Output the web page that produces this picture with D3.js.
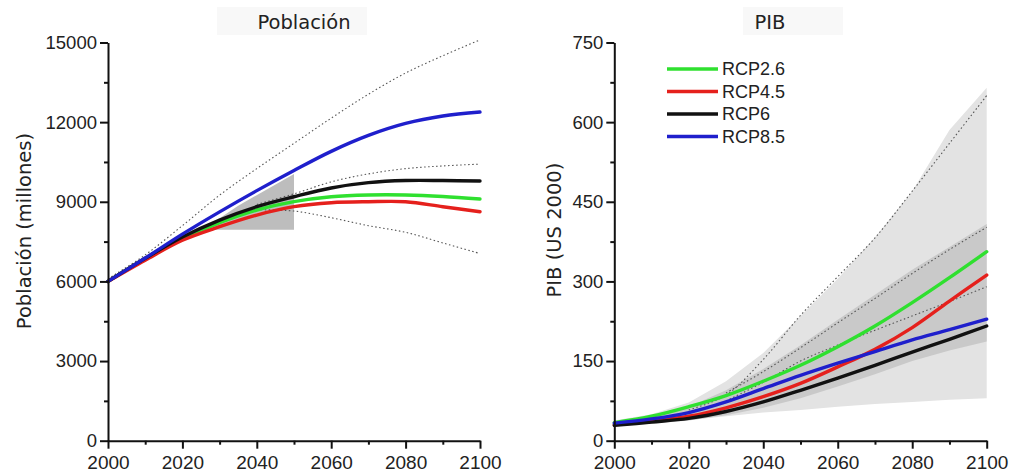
<!DOCTYPE html>
<html>
<head>
<meta charset="utf-8">
<script src="https://cdn.jsdelivr.net/npm/d3@7"></script>
<style>
  body { margin: 0; background: #fff; }
  svg { display: block; }
</style>
</head>
<body>
<script>
// ---- data ----
var years = [2000, 2010, 2020, 2030, 2040, 2050, 2060, 2070, 2080, 2090, 2100];
var scenarios = ['RCP2.6', 'RCP4.5', 'RCP6', 'RCP8.5'];
var scenarioColors = ['#2fe02f', '#e5201c', '#111111', '#1f1fcc'];

// population, millions
var popRCP26 = [6000, 6850, 7600, 8210, 8690, 9005, 9190, 9255, 9255, 9200, 9105];
var popRCP45 = [6000, 6800, 7550, 8060, 8500, 8815, 8965, 9003, 9003, 8815, 8626];
var popRCP6  = [6000, 6870, 7670, 8310, 8815, 9190, 9520, 9720, 9800, 9800, 9783];
var popRCP85 = [6000, 6880, 7780, 8620, 9420, 10180, 10900, 11500, 11950, 12230, 12380];
var popDotHigh = [6100, 7000, 8100, 9250, 10250, 11200, 12150, 13050, 13850, 14500, 15100];
var popDotMidYears = [2040, 2050, 2060, 2070, 2080, 2090, 2100];
var popDotMid = [8900, 9300, 9750, 10050, 10250, 10350, 10420];
var popDotLow = [8700, 8650, 8400, 8100, 7850, 7450, 7050];
var popBandYears = [2026, 2035, 2050];
var popBandHigh = [8000, 8850, 10050];
var popBandLow = [7950, 7950, 7950];

// GDP, US 2000
var gdpRCP26 = [34, 46, 64, 85, 112, 142, 177, 216, 260, 307, 356];
var gdpRCP45 = [30, 37, 46, 62, 83, 108, 139, 172, 213, 263, 312];
var gdpRCP6  = [29, 35, 42, 55, 73, 95, 118, 142, 167, 191, 216];
var gdpRCP85 = [33, 41, 53, 73, 98, 123, 146, 168, 190, 209, 229];
var gdpLightHigh = [38, 50, 72, 112, 165, 235, 305, 383, 470, 585, 665];
var gdpLightLow  = [30, 34, 39, 46, 53, 58, 64, 69, 73, 77, 80];
var gdpDarkHigh  = [35, 46, 64, 95, 135, 180, 228, 275, 322, 365, 408];
var gdpDarkLow   = [28, 32, 38, 48, 62, 80, 102, 125, 150, 170, 187];
var gdpDotHighYears = [2020, 2030, 2040, 2050, 2060, 2070, 2080, 2090, 2100];
var gdpDotHigh = [58, 86, 153, 236, 309, 382, 470, 560, 650];
var gdpDotMidYears = [2030, 2040, 2050, 2060, 2070, 2080, 2090, 2100];
var gdpDotMid1 = [90, 130, 175, 222, 268, 315, 360, 402];
var gdpDotMid2 = [75, 110, 150, 180, 208, 235, 262, 290];

var popTicks = [0, 3000, 6000, 9000, 12000, 15000];
var gdpTicks = [0, 150, 300, 450, 600, 750];
var yearTicks = [2000, 2020, 2040, 2060, 2080, 2100];

var W = 1010, H = 474;
var svg = d3.select('body').append('svg').attr('width', W).attr('height', H);

var plotTop = 42.5, plotBottom = 440.7;

function zip(xs, ys) { return xs.map(function(x, i) { return [x, ys[i]]; }); }

function panel(opts) {
    var x = d3.scaleLinear().domain([2000, 2100]).range([opts.left, opts.right]);
    var y = d3.scaleLinear().domain([0, opts.ymax]).range([plotBottom, plotTop]);
    var g = svg.append('g');

    // title with faint box
    g.append('rect').attr('x', opts.titleBox[0]).attr('y', 7)
        .attr('width', opts.titleBox[1]).attr('height', 28).attr('fill', '#f8f8f8');
    g.append('text').attr('x', opts.titleX).attr('y', 29)
        .attr('text-anchor', 'middle')
        .style('font-family', 'DejaVu Sans').style('font-size', '19.5px').style('fill', '#222')
        .text(opts.title);

    // axis label
    g.append('text')
        .attr('transform', 'translate(' + opts.labelX + ',' + opts.labelY + ') rotate(-90)')
        .attr('text-anchor', 'middle')
        .style('font-family', 'DejaVu Sans').style('font-size', '19.5px').style('fill', '#222')
        .text(opts.ylabel);

    var area = d3.area().x(function(d) { return x(d[0]); })
        .y0(function(d) { return y(d[1]); }).y1(function(d) { return y(d[2]); });
    (opts.bands || []).forEach(function(b) {
        var pts = b.years.map(function(t, i) { return [t, b.low[i], b.high[i]]; });
        g.append('path').attr('d', area(pts)).attr('fill', b.color).attr('stroke', 'none');
    });

    var line = d3.line().x(function(d) { return x(d[0]); }).y(function(d) { return y(d[1]); })
        .curve(d3.curveCatmullRom.alpha(0.5));
    (opts.dotted || []).forEach(function(dl) {
        g.append('path').attr('d', line(zip(dl.years, dl.vals)))
            .attr('fill', 'none').attr('stroke', '#555').attr('stroke-width', 1.1)
            .attr('stroke-dasharray', '1.5,2.5');
    });

    opts.series.forEach(function(s, i) {
        g.append('path').attr('d', line(zip(years, s)))
            .attr('fill', 'none').attr('stroke', scenarioColors[i])
            .attr('stroke-width', 3.4).attr('stroke-linecap', 'round');
    });

    // axes: major + minor ticks
    var minorY = d3.range(opts.ymax / 10, opts.ymax, opts.ymax / 5);
    var minorX = d3.range(2010, 2100, 20);

    var yAxis = g.append('g').attr('transform', 'translate(' + opts.left + ',0)')
        .call(d3.axisLeft(y).tickValues(opts.yticks).tickSize(8).tickSizeOuter(0).tickPadding(3)
            .tickFormat(d3.format('d')));
    g.append('g').attr('transform', 'translate(' + opts.left + ',0)')
        .call(d3.axisLeft(y).tickValues(minorY).tickSize(4).tickFormat(''))
        .select('.domain').remove();
    var xAxis = g.append('g').attr('transform', 'translate(0,' + plotBottom + ')')
        .call(d3.axisBottom(x).tickValues(yearTicks).tickSize(8).tickSizeOuter(0).tickPadding(7)
            .tickFormat(d3.format('d')));
    g.append('g').attr('transform', 'translate(0,' + plotBottom + ')')
        .call(d3.axisBottom(x).tickValues(minorX).tickSize(4).tickFormat(''))
        .select('.domain').remove();

    g.selectAll('.domain').attr('stroke', '#111').attr('stroke-width', 2);
    g.selectAll('.tick line').attr('stroke', '#111').attr('stroke-width', 2);
    yAxis.selectAll('text').style('font-family', 'Liberation Sans').style('font-size', '18.5px').style('fill', '#222');
    xAxis.selectAll('text').style('font-family', 'Liberation Sans').style('font-size', '19px').style('fill', '#222');
    return { x: x, y: y, g: g };
}

panel({
    left: 108, right: 480, ymax: 15000, yticks: popTicks,
    title: 'Población', titleX: 304, titleBox: [217, 150],
    ylabel: 'Población (millones)', labelX: 31, labelY: 231,
    bands: [{ years: popBandYears, low: popBandLow, high: popBandHigh, color: '#bdbdbd' }],
    dotted: [
        { years: years, vals: popDotHigh },
        { years: popDotMidYears, vals: popDotMid },
        { years: popDotMidYears, vals: popDotLow }
    ],
    series: [popRCP26, popRCP45, popRCP6, popRCP85]
});

panel({
    left: 614.3, right: 986.7, ymax: 750, yticks: gdpTicks,
    title: 'PIB', titleX: 770, titleBox: [743, 100],
    ylabel: 'PIB (US 2000)', labelX: 561, labelY: 230,
    bands: [
        { years: years, low: gdpLightLow, high: gdpLightHigh, color: '#e3e3e3' },
        { years: years, low: gdpDarkLow, high: gdpDarkHigh, color: '#c9c9c9' }
    ],
    dotted: [
        { years: gdpDotHighYears, vals: gdpDotHigh },
        { years: gdpDotMidYears, vals: gdpDotMid1 },
        { years: gdpDotMidYears, vals: gdpDotMid2 }
    ],
    series: [gdpRCP26, gdpRCP45, gdpRCP6, gdpRCP85]
});

// legend
var legend = svg.append('g').attr('transform', 'translate(667,69)');
scenarios.forEach(function(name, i) {
    var row = legend.append('g').attr('transform', 'translate(0,' + (i * 22.5) + ')');
    row.append('line').attr('x1', 0).attr('x2', 51).attr('y1', 0).attr('y2', 0)
        .attr('stroke', scenarioColors[i]).attr('stroke-width', 3.4);
    row.append('text').attr('x', 55).attr('y', 0).attr('dy', '0.36em')
        .style('font-family', 'Liberation Sans').style('font-size', '18px').style('fill', '#222')
        .text(name);
});
</script>
</body>
</html>
